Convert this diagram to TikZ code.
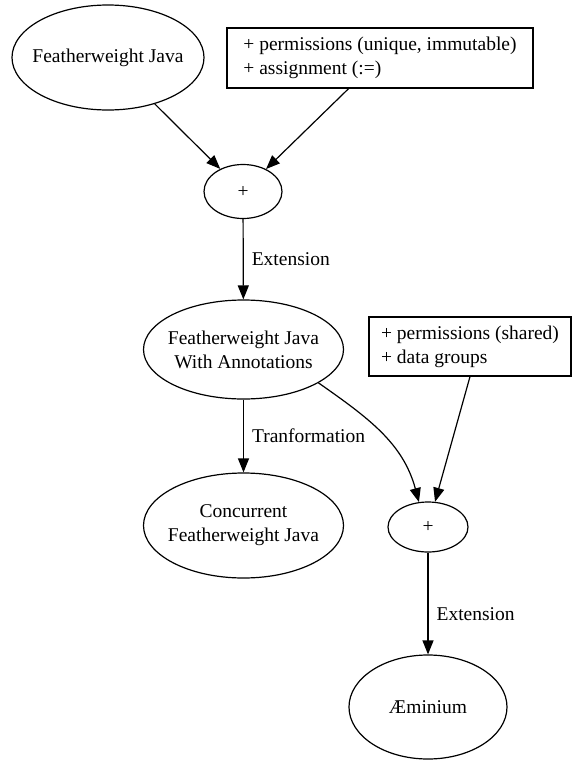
\documentclass[tikz,border=0pt]{standalone}
\usepackage{fontspec}
\setmainfont{Liberation Serif}
\usetikzlibrary{arrows.meta,shapes.geometric}
\begin{document}
\begin{tikzpicture}[x=1pt,y=-1pt,
  txt/.style={font=\fontsize{19.5}{24}\selectfont},
  oval/.style={draw, line width=1.2pt, ellipse, inner sep=0pt},
  ovaltext/.style={txt, align=center, inner sep=0pt},
  note/.style={draw, line width=1.2pt, rectangle, txt, align=left, inner sep=0pt},
  conn/.style={line width=1.2pt, -{Triangle[length=14pt,width=11pt]}},
  lbl/.style={txt, anchor=west, inner sep=0pt, xshift=8pt}
]
\fill[white] (0,0) rectangle (572,761);
\useasboundingbox (0,0) rectangle (572,761);

\node[oval, minimum width=192pt, minimum height=105pt] (fj) at (108,57.5) {};
\node[ovaltext] (fjt) at (fj.center) {Featherweight Java};

\node[note, minimum width=306pt, minimum height=60pt] (b1) at (380,58)
  {+ permissions (unique, immutable)\\+ assignment (:=)};

\node[oval, minimum width=78pt, minimum height=54pt] (p1) at (243,191.5) {};
\node[ovaltext] (p1t) at (p1.center) {+};

\node[oval, minimum width=200pt, minimum height=99pt] (fja) at (243.5,349.5) {};
\node[ovaltext] (fjat) at (fja.center) {Featherweight Java\\With Annotations};

\node[note, minimum width=202pt, minimum height=59pt] (b2) at (470,346.5)
  {+ permissions (shared)\\+ data groups};

\node[oval, minimum width=80pt, minimum height=50pt] (p2) at (428,527) {};
\node[ovaltext] (p2t) at (p2.center) {+};

\node[oval, minimum width=200pt, minimum height=105pt] (cfj) at (243.5,525.5) {};
\node[ovaltext] (cfjt) at (cfj.center) {Concurrent\\Featherweight Java};

\node[oval, minimum width=158pt, minimum height=104pt] (aem) at (428,707) {};
\node[ovaltext] (aemt) at (aem.center) {Æminium};

\draw[conn] (fj) -- (p1);
\draw[conn] (b1) -- (p1);
\draw[conn] (p1) -- node[lbl] {Extension} (fja);
\draw[conn] (fja) -- node[lbl] {Tranformation} (cfj);
\draw[conn] (fja.-24) to[out=-35,in=105] (p2.110);
\draw[conn] (b2.south) -- (p2);
\draw[conn] (p2) -- node[lbl, pos=0.6] {Extension} (aem);
\end{tikzpicture}
\end{document}
